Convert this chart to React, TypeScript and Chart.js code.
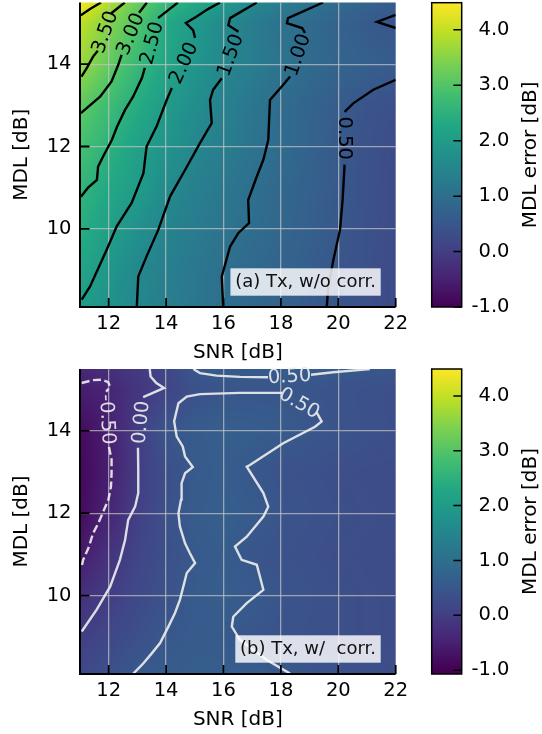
import React, { useEffect, useRef } from "react";
import { Chart, registerables } from "chart.js";

Chart.register(...registerables);

type Pt = number[];
type Seg = Pt[];

// ---------- axes ----------
const SNR_RANGE = [11, 22];
const MDL_RANGE = [8.1, 15.5];
const SNR_TICKS = [12, 14, 16, 18, 20, 22];
const MDL_TICKS = [10, 12, 14];
const ERR_TICKS = [-1, 0, 1, 2, 3, 4];
const ERR_RANGE_A = [-1.0, 4.49];
const ERR_RANGE_B = [-1.07, 4.49];
const COLOR_RANGE = [-1.0, 4.49];

// ---------- heat-map grids (rows = MDL, cols = SNR) ----------
const SNR_GRID = [11, 12, 13, 14, 15, 16, 17, 18, 19, 20, 21, 22];
const MDL_GRID = [8.1, 9, 10, 11, 12, 13, 14, 15, 15.5];

const ERR_A = [
  [2.0, 1.75, 1.5, 1.33, 1.17, 1.0, 0.86, 0.72, 0.58, 0.45, 0.34, 0.24],
  [2.2, 1.87, 1.54, 1.35, 1.18, 1.0, 0.87, 0.74, 0.6, 0.47, 0.35, 0.24],
  [2.42, 2.08, 1.74, 1.45, 1.28, 1.11, 0.95, 0.81, 0.66, 0.51, 0.36, 0.24],
  [2.58, 2.29, 2.0, 1.62, 1.37, 1.18, 1.0, 0.84, 0.68, 0.53, 0.37, 0.25],
  [2.87, 2.5, 2.12, 1.81, 1.53, 1.32, 1.1, 0.91, 0.73, 0.54, 0.38, 0.27],
  [3.13, 2.75, 2.37, 1.98, 1.67, 1.39, 1.15, 0.93, 0.76, 0.58, 0.42, 0.33],
  [3.68, 3.17, 2.66, 2.23, 1.86, 1.54, 1.31, 1.1, 0.88, 0.77, 0.67, 0.58],
  [3.95, 3.48, 2.98, 2.32, 1.92, 1.6, 1.3, 1.05, 0.9, 0.72, 0.55, 0.45],
  [4.45, 3.84, 3.21, 2.67, 2.29, 1.95, 1.56, 1.32, 1.1, 0.93, 0.75, 0.58],
];

const ERR_B = [
  [0.2, 0.35, 0.52, 0.58, 0.62, 0.63, 0.6, 0.53, 0.45, 0.38, 0.33, 0.3],
  [0.0, 0.17, 0.33, 0.5, 0.58, 0.54, 0.45, 0.4, 0.36, 0.33, 0.3, 0.28],
  [-0.25, -0.02, 0.2, 0.38, 0.56, 0.62, 0.56, 0.45, 0.38, 0.33, 0.3, 0.28],
  [-0.62, -0.2, 0.12, 0.33, 0.54, 0.6, 0.45, 0.38, 0.34, 0.3, 0.28, 0.27],
  [-0.85, -0.44, 0.02, 0.35, 0.58, 0.65, 0.57, 0.45, 0.38, 0.33, 0.3, 0.28],
  [-0.9, -0.55, -0.02, 0.3, 0.55, 0.62, 0.48, 0.4, 0.35, 0.3, 0.28, 0.27],
  [-0.85, -0.52, -0.03, 0.45, 0.58, 0.65, 0.63, 0.57, 0.49, 0.42, 0.36, 0.32],
  [-0.55, -0.45, -0.15, 0.1, 0.35, 0.45, 0.47, 0.47, 0.45, 0.4, 0.35, 0.32],
  [-0.4, -0.25, -0.08, 0.15, 0.48, 0.55, 0.56, 0.56, 0.55, 0.54, 0.51, 0.45],
];

// ---------- contour lines, panel (a) ([SNR, MDL]; label sits in the gap between segments) ----------
const A_C400: Seg[] = [[[11.73, 15.5], [11.35, 15.34], [11.03, 15.19]]];
const A_C350: Seg[] = [
  [[12.56, 15.5], [12.09, 15.24]],
  [[11.62, 14.33], [11.45, 14.18], [11.24, 13.91], [11.05, 13.7]],
];
const A_C300: Seg[] = [
  [[13.33, 15.5], [13.06, 15.25]],
  [[12.45, 14.23], [12.33, 13.98], [12.1, 13.58], [11.7, 13.21], [11.03, 12.81]],
];
const A_C250: Seg[] = [
  [[14.41, 15.5], [13.72, 15.12]],
  [[13.26, 13.91], [13.16, 13.67], [12.85, 13.21], [12.57, 12.89], [12.29, 12.48], [12.11, 12.16],
   [11.8, 11.75], [11.63, 11.51], [11.59, 11.19], [11.28, 11.0], [11.03, 10.78]],
];
const A_C200: Seg[] = [
  [[15.88, 15.5], [15.46, 15.34], [15.04, 15.15], [14.69, 15.0], [14.94, 14.83], [15.01, 14.64]],
  [[14.2, 13.42], [14.02, 13.13], [13.67, 12.49], [13.32, 12.0], [13.21, 11.35], [12.8, 10.63],
   [12.28, 10.06], [11.93, 9.49], [11.35, 8.6], [11.06, 8.28]],
];
const A_C150: Seg[] = [
  [[17.16, 15.5], [16.23, 15.12], [16.17, 14.95], [16.52, 14.79]],
  [[15.94, 13.66], [15.64, 13.38], [15.53, 13.13], [15.59, 12.57], [15.18, 12.08], [14.66, 11.43],
   [14.14, 10.79], [13.73, 9.98], [13.32, 9.33], [13.03, 8.84], [12.98, 8.11]],
];
const A_C100: Seg[] = [
  [[19.47, 15.5], [18.25, 15.12], [18.21, 15.0], [18.74, 14.88], [18.84, 14.76]],
  [[18.32, 13.7], [18.03, 13.46], [17.62, 13.13], [17.56, 12.16], [17.39, 11.68], [17.16, 11.27],
   [16.86, 10.7], [16.89, 10.14], [16.52, 9.9], [16.23, 9.57], [15.94, 8.84], [15.99, 8.11]],
];
const A_C050: Seg[] = [
  [[19.6, 8.11], [19.65, 8.59], [19.83, 9.25], [20.06, 9.98], [20.15, 10.7], [20.22, 11.56]],
  [[20.22, 12.84], [20.52, 13.05], [21.22, 13.38], [22.0, 13.62]],
];
const A_C050_CORNER: Seg[] = [[[22.0, 15.2], [21.35, 15.03], [22.0, 14.88]]];

// ---------- contour lines, panel (b) ----------
const B_CM050: Seg[] = [
  [[11.06, 15.16], [11.45, 15.23], [11.77, 15.24], [11.98, 15.18], [12.05, 15.07], [11.91, 14.95]],
  [[12.01, 13.61], [12.1, 13.3], [12.1, 12.97], [12.08, 12.65], [11.99, 12.33], [11.81, 12.04],
   [11.64, 11.76], [11.46, 11.52], [11.29, 11.15], [11.11, 10.87], [11.06, 10.71]],
];
const B_C000: Seg[] = [
  [[13.43, 15.5], [13.46, 15.32], [13.66, 15.16], [13.93, 15.04], [13.54, 14.92], [13.2, 14.82]],
  [[13.02, 13.59], [13.03, 13.05], [13.03, 12.49], [12.92, 12.16], [12.68, 11.84], [12.57, 11.35],
   [12.39, 10.87], [12.05, 10.22], [11.58, 9.66], [11.06, 9.13]],
];
const B_C050_TOP: Seg[] = [
  [[14.95, 15.5], [15.18, 15.4], [15.76, 15.34], [16.57, 15.31], [17.55, 15.3]],
  [[19.05, 15.36], [19.82, 15.42], [21.1, 15.5]],
];
const B_C050_MID: Seg[] = [
  [[12.86, 8.11], [13.21, 8.36], [13.5, 8.6], [13.79, 8.85], [14.08, 9.25], [14.31, 9.58], [14.48, 9.9],
   [14.6, 10.22], [14.72, 10.55], [15.01, 10.79], [14.83, 11.03], [14.66, 11.27], [14.48, 11.68],
   [14.43, 12.0], [14.52, 12.33], [14.54, 12.73], [14.66, 12.97], [14.93, 13.12], [14.66, 13.38],
   [14.58, 13.62], [14.37, 13.86], [14.28, 14.23], [14.43, 14.67], [14.72, 14.83], [15.18, 14.89],
   [16.57, 14.92], [18.05, 14.92]],
  [[19.25, 14.44], [19.42, 14.23], [19.19, 14.1], [18.08, 13.7], [16.92, 13.17], [16.81, 13.13],
   [17.39, 12.49], [17.56, 12.16], [17.39, 11.92], [16.81, 11.43], [16.4, 11.19], [16.63, 10.87],
   [17.16, 10.75], [17.39, 10.14], [16.81, 9.82], [16.34, 9.49], [16.29, 9.25], [16.57, 8.93],
   [17.51, 8.44], [18.32, 8.11]],
];

const CONTOURS_A: [number, Seg[]][] = [
  [4.0, A_C400], [3.5, A_C350], [3.0, A_C300], [2.5, A_C250], [2.0, A_C200],
  [1.5, A_C150], [1.0, A_C100], [0.5, A_C050], [0.5, A_C050_CORNER],
];
const CONTOURS_B: [number, Seg[]][] = [
  [-0.5, B_CM050], [0.0, B_C000], [0.5, B_C050_TOP], [0.5, B_C050_MID],
];

// ---------- styling ----------
const FONT = '"DejaVu Sans"';
const TICK_SIZE = 19.5;
const TITLE_SIZE = 20;
const CLABEL_SIZE = 19.5;
const GRID_COLOR = "rgba(195,195,195,0.72)";

const VIRIDIS = [
  [68, 1, 84], [72, 36, 117], [65, 68, 135], [53, 95, 141], [42, 120, 142], [33, 145, 140],
  [34, 168, 132], [68, 191, 112], [122, 209, 81], [189, 223, 38], [253, 231, 37],
];

function viridis(t: number): number[] {
  const tt = Math.min(1, Math.max(0, t)) * (VIRIDIS.length - 1);
  const i = Math.min(VIRIDIS.length - 2, Math.floor(tt));
  const f = tt - i;
  const a = VIRIDIS[i], b = VIRIDIS[i + 1];
  return [a[0] + (b[0] - a[0]) * f, a[1] + (b[1] - a[1]) * f, a[2] + (b[2] - a[2]) * f];
}

function interp(z: number[][], x: number, y: number): number {
  const xs = SNR_GRID, ys = MDL_GRID;
  let i = 0;
  while (i < xs.length - 2 && x > xs[i + 1]) i++;
  let j = 0;
  while (j < ys.length - 2 && y > ys[j + 1]) j++;
  const tx = Math.min(1, Math.max(0, (x - xs[i]) / (xs[i + 1] - xs[i])));
  const ty = Math.min(1, Math.max(0, (y - ys[j]) / (ys[j + 1] - ys[j])));
  const a = z[j][i], b = z[j][i + 1], c = z[j + 1][i], d = z[j + 1][i + 1];
  return a * (1 - tx) * (1 - ty) + b * tx * (1 - ty) + c * (1 - tx) * ty + d * tx * ty;
}

function normT(v: number) {
  return (v - COLOR_RANGE[0]) / (COLOR_RANGE[1] - COLOR_RANGE[0]);
}

function drawHeat(chart: any, z: number[][]) {
  const { ctx, chartArea: a, scales } = chart;
  const xs = scales.x, ys = scales.y;
  const x0 = Math.floor(a.left), y0 = Math.floor(a.top);
  const w = Math.ceil(a.right) - x0, h = Math.ceil(a.bottom) - y0;
  const off = document.createElement("canvas");
  off.width = w;
  off.height = h;
  const octx = off.getContext("2d")!;
  const img = octx.createImageData(w, h);
  for (let j = 0; j < h; j++) {
    const mdl = ys.getValueForPixel(y0 + j + 0.5);
    for (let i = 0; i < w; i++) {
      const snr = xs.getValueForPixel(x0 + i + 0.5);
      const c = viridis(normT(interp(z, snr, mdl)));
      const k = (j * w + i) * 4;
      img.data[k] = c[0];
      img.data[k + 1] = c[1];
      img.data[k + 2] = c[2];
      img.data[k + 3] = 255;
    }
  }
  octx.putImageData(img, 0, 0);
  ctx.save();
  ctx.beginPath();
  ctx.rect(a.left, a.top, a.right - a.left, a.bottom - a.top);
  ctx.clip();
  ctx.drawImage(off, x0, y0);
  ctx.restore();
}

function flatten(segs: Seg[]) {
  const out: any[] = [];
  segs.forEach((s, k) => {
    if (k > 0) out.push({ x: s[0][0], y: null });
    s.forEach((p) => out.push({ x: p[0], y: p[1] }));
  });
  return out;
}

type Panel = {
  z: number[][];
  contours: [number, Seg[]][];
  lineColor: string;
  note: string;
  areaTop: number;
  areaBottom: number;
  height: number;
};

function plotPlugin(p: Panel) {
  return {
    id: "plotFigure",
    beforeDraw(chart: any) {
      drawHeat(chart, p.z);
    },
    afterDatasetsDraw(chart: any) {
      const { ctx, scales } = chart;
      ctx.save();
      ctx.font = `${CLABEL_SIZE}px ${FONT}`;
      ctx.fillStyle = p.lineColor;
      ctx.textAlign = "center";
      ctx.textBaseline = "middle";
      p.contours.forEach(([level, segs]) => {
        for (let k = 0; k < segs.length - 1; k++) {
          const a = segs[k][segs[k].length - 1];
          const b = segs[k + 1][0];
          const ax = scales.x.getPixelForValue(a[0]), ay = scales.y.getPixelForValue(a[1]);
          const bx = scales.x.getPixelForValue(b[0]), by = scales.y.getPixelForValue(b[1]);
          let ang = Math.atan2(by - ay, bx - ax);
          if (ang > Math.PI / 2 + 1e-9) ang -= Math.PI;
          if (ang <= -Math.PI / 2 + 1e-9) ang += Math.PI;
          ctx.save();
          ctx.translate((ax + bx) / 2, (ay + by) / 2);
          ctx.rotate(ang);
          ctx.fillText(level.toFixed(2), 0, 1);
          ctx.restore();
        }
      });
      ctx.restore();
    },
    afterDraw(chart: any) {
      const { ctx, chartArea: a, scales } = chart;
      ctx.save();
      // annotation box
      ctx.font = `18px ${FONT}`;
      const tw = ctx.measureText(p.note).width;
      const bw = tw + 9.4, bh = 27.4;
      const bx = a.right - 15 - bw, by = a.bottom - 11.3 - bh;
      ctx.fillStyle = "rgba(255,255,255,0.82)";
      ctx.fillRect(bx, by, bw, bh);
      ctx.fillStyle = "#111";
      ctx.textAlign = "center";
      ctx.textBaseline = "middle";
      ctx.fillText(p.note, bx + bw / 2, by + bh / 2);
      // spines
      ctx.strokeStyle = "#000";
      ctx.lineWidth = 2;
      ctx.beginPath();
      ctx.moveTo(a.left, a.top);
      ctx.lineTo(a.left, a.bottom + 1);
      ctx.moveTo(a.left - 1, a.bottom);
      ctx.lineTo(a.right, a.bottom);
      ctx.stroke();
      // inward ticks
      ctx.lineWidth = 1.8;
      ctx.beginPath();
      SNR_TICKS.forEach((v) => {
        const x = scales.x.getPixelForValue(v);
        ctx.moveTo(x, a.bottom);
        ctx.lineTo(x, a.bottom - 9);
      });
      MDL_TICKS.forEach((v) => {
        const y = scales.y.getPixelForValue(v);
        ctx.moveTo(a.left, y);
        ctx.lineTo(a.left + 9.5, y);
      });
      ctx.stroke();
      // axis titles
      ctx.fillStyle = "#000";
      ctx.font = `${TITLE_SIZE}px ${FONT}`;
      ctx.textAlign = "center";
      ctx.textBaseline = "alphabetic";
      ctx.fillText("SNR [dB]", (a.left + a.right) / 2, a.bottom + 51);
      ctx.translate(27.3, (a.top + a.bottom) / 2);
      ctx.rotate(-Math.PI / 2);
      ctx.fillText("MDL [dB]", 0, 0);
      ctx.restore();
    },
  };
}

function plotConfig(p: Panel): any {
  const datasets = p.contours.map(([level, segs]) => ({
    data: flatten(segs),
    borderColor: p.lineColor,
    borderWidth: 2.4,
    borderDash: level < 0 ? [8, 3.6] : [],
    pointRadius: 0,
    pointHoverRadius: 0,
    tension: 0,
    spanGaps: false,
    fill: false,
    clip: 0,
  }));
  const tickFont = { family: FONT, size: TICK_SIZE };
  return {
    type: "line",
    data: { datasets },
    options: {
      responsive: false,
      animation: false,
      events: [],
      layout: { padding: { left: 0, top: p.areaTop, right: 420 - 395.7, bottom: 0 }, autoPadding: false },
      plugins: { legend: { display: false }, tooltip: { enabled: false } },
      scales: {
        x: {
          type: "linear",
          min: SNR_RANGE[0],
          max: SNR_RANGE[1],
          afterBuildTicks: (s: any) => {
            s.ticks = SNR_TICKS.map((v) => ({ value: v }));
          },
          afterFit: (s: any) => {
            s.height = p.height - p.areaBottom;
            s.paddingLeft = 0;
            s.paddingRight = 0;
          },
          grid: {
            color: (c: any) => (c.tick && c.tick.value === SNR_RANGE[1] ? "rgba(0,0,0,0)" : GRID_COLOR),
            lineWidth: 1.3,
            drawTicks: false,
          },
          border: { display: false },
          ticks: {
            padding: 5,
            font: tickFont,
            color: "#000",
            maxRotation: 0,
            autoSkip: false,
            callback: (v: any) => String(v),
          },
        },
        y: {
          type: "linear",
          min: MDL_RANGE[0],
          max: MDL_RANGE[1],
          afterBuildTicks: (s: any) => {
            s.ticks = MDL_TICKS.map((v) => ({ value: v }));
          },
          afterFit: (s: any) => {
            s.width = 80;
            s.paddingTop = 0;
            s.paddingBottom = 0;
          },
          grid: { color: GRID_COLOR, lineWidth: 1.3, drawTicks: false },
          border: { display: false },
          ticks: {
            padding: 8.5,
            font: tickFont,
            color: "#000",
            autoSkip: false,
            callback: (v: any) => String(v),
          },
        },
      },
    },
    plugins: [plotPlugin(p)],
  };
}

type CbarCfg = { range: number[]; top: number; bottom: number; height: number };

function cbarPlugin(c: CbarCfg) {
  return {
    id: "cbarFigure",
    beforeDraw(chart: any) {
      const { ctx, chartArea: a, scales } = chart;
      const y0 = Math.floor(a.top), y1 = Math.ceil(a.bottom);
      for (let py = y0; py < y1; py++) {
        const v = scales.y.getValueForPixel(py + 0.5);
        const col = viridis(normT(v));
        ctx.fillStyle = `rgb(${col[0] | 0},${col[1] | 0},${col[2] | 0})`;
        ctx.fillRect(a.left, py, a.right - a.left, 1);
      }
    },
    afterDraw(chart: any) {
      const { ctx, chartArea: a, scales } = chart;
      ctx.save();
      ctx.strokeStyle = "#000";
      ctx.lineWidth = 1.5;
      ctx.strokeRect(a.left, a.top, a.right - a.left, a.bottom - a.top);
      ctx.beginPath();
      ERR_TICKS.forEach((v) => {
        const y = scales.y.getPixelForValue(v);
        ctx.moveTo(a.right, y);
        ctx.lineTo(a.right - 8.3, y);
      });
      ctx.stroke();
      ctx.fillStyle = "#000";
      ctx.font = `${TITLE_SIZE}px ${FONT}`;
      ctx.textAlign = "center";
      ctx.textBaseline = "alphabetic";
      ctx.translate(116.3, (a.top + a.bottom) / 2);
      ctx.rotate(-Math.PI / 2);
      ctx.fillText("MDL error [dB]", 0, 0);
      ctx.restore();
    },
  };
}

function cbarConfig(c: CbarCfg): any {
  return {
    type: "line",
    data: { datasets: [] },
    options: {
      responsive: false,
      animation: false,
      events: [],
      layout: {
        padding: { left: 11.7, top: c.top, right: 122 - 41.7 - 47.8, bottom: c.height - c.bottom },
        autoPadding: false,
      },
      plugins: { legend: { display: false }, tooltip: { enabled: false } },
      scales: {
        x: { type: "linear", display: false, min: 0, max: 1 },
        y: {
          type: "linear",
          position: "right",
          min: c.range[0],
          max: c.range[1],
          afterBuildTicks: (s: any) => {
            s.ticks = ERR_TICKS.map((v) => ({ value: v }));
          },
          afterFit: (s: any) => {
            s.width = 47.8;
            s.paddingTop = 0;
            s.paddingBottom = 0;
          },
          grid: { display: false, drawTicks: false },
          border: { display: false },
          ticks: {
            crossAlign: "far",
            font: { family: FONT, size: TICK_SIZE },
            color: "#000",
            autoSkip: false,
            callback: (v: any) => Number(v).toFixed(1),
          },
        },
      },
    },
    plugins: [cbarPlugin(c)],
  };
}

const PANEL_A: Panel = {
  z: ERR_A,
  contours: CONTOURS_A,
  lineColor: "#000",
  note: "(a) Tx, w/o corr.",
  areaTop: 2.5,
  areaBottom: 307,
  height: 362,
};
const PANEL_B: Panel = {
  z: ERR_B,
  contours: CONTOURS_B,
  lineColor: "rgba(236,236,236,0.92)",
  note: "(b) Tx, w/  corr.",
  areaTop: 7,
  areaBottom: 312,
  height: 372,
};
const CBAR_A: CbarCfg = { range: ERR_RANGE_A, top: 2.7, bottom: 307, height: 362 };
const CBAR_B: CbarCfg = { range: ERR_RANGE_B, top: 7, bottom: 312, height: 372 };

export default function App() {
  const pa = useRef<HTMLCanvasElement>(null);
  const ca = useRef<HTMLCanvasElement>(null);
  const pb = useRef<HTMLCanvasElement>(null);
  const cb = useRef<HTMLCanvasElement>(null);

  useEffect(() => {
    const charts = [
      new Chart(pa.current!, plotConfig(PANEL_A)),
      new Chart(ca.current!, cbarConfig(CBAR_A)),
      new Chart(pb.current!, plotConfig(PANEL_B)),
      new Chart(cb.current!, cbarConfig(CBAR_B)),
    ];
    return () => charts.forEach((c) => c.destroy());
  }, []);

  const abs = (left: number, top: number, w: number, h: number): React.CSSProperties => ({
    position: "absolute",
    left,
    top,
    width: w,
    height: h,
  });

  return (
    <div style={{ position: "absolute", left: 0, top: 0, width: 542, height: 734, background: "#fff", overflow: "hidden" }}>
      <canvas ref={pa} width={420} height={362} style={abs(0, 0, 420, 362)} />
      <canvas ref={ca} width={122} height={362} style={abs(420, 0, 122, 362)} />
      <canvas ref={pb} width={420} height={372} style={abs(0, 362, 420, 372)} />
      <canvas ref={cb} width={122} height={372} style={abs(420, 362, 122, 372)} />
    </div>
  );
}
